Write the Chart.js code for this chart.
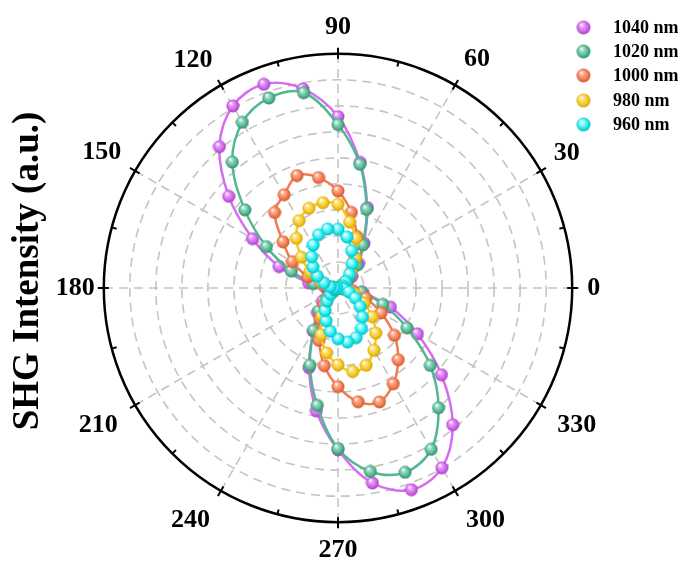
<!DOCTYPE html>
<html>
<head>
<meta charset="utf-8">
<script src="https://cdn.jsdelivr.net/npm/chart.js@4.4.1/dist/chart.umd.min.js"></script>
<style>
  html, body { margin: 0; padding: 0; background: #fff; overflow: hidden; }
  #wrap { position: relative; width: 685px; height: 564px; }
  #legend {
    position: absolute; left: 576px; top: 15px; margin: 0; padding: 0; list-style: none;
    font: bold 18px "Liberation Serif", "Times New Roman", serif; color: #000;
  }
  #legend li { display: flex; align-items: center; height: 24.3px; }
  #legend img { width: 15px; height: 15px; margin-right: 22px; }
</style>
</head>
<body>
<div id="wrap">
  <canvas id="chartCanvas" width="685" height="564"></canvas>
  <ul id="legend"></ul>
</div>
<script>
// polarisation angle (deg) of every measured point
const angles = [0, 10, 20, 30, 40, 50, 60, 70, 80, 90, 100, 110, 120, 130, 140, 150, 160, 170,
  180, 190, 200, 210, 220, 230, 240, 250, 260, 270, 280, 290, 300, 310, 320, 330, 340, 350];

// radar spokes run clockwise from the top, so the labels go 90, 80, ... 0, 350, ... 100
const angleLabels = [90, 80, 70, 60, 50, 40, 30, 20, 10, 0, 350, 340, 330, 320, 310, 300, 290, 280,
  270, 260, 250, 240, 230, 220, 210, 200, 190, 180, 170, 160, 150, 140, 130, 120, 110, 100];

// SHG intensity (a.u.), same order as angles
const i1040 = [0.38, 0.11, 0.04, 0.23, 0.69, 1.23, 1.99, 3.29, 4.90, 6.59, 7.77, 8.33, 8.08, 7.09, 5.48, 3.79, 2.41, 1.15,
  0.46, 0.11, 0.04, 0.23, 0.77, 1.23, 1.91, 3.26, 4.79, 6.22, 7.61, 8.25, 7.98, 6.86, 5.19, 3.52, 2.14, 0.96];
const i1020 = [0.38, 0.11, 0.04, 0.19, 0.54, 1.15, 1.91, 3.22, 4.83, 6.28, 7.62, 7.77, 7.35, 6.32, 4.67, 3.18, 1.91, 0.96,
  0.38, 0.11, 0.04, 0.19, 0.57, 1.15, 1.88, 3.16, 4.58, 6.17, 7.16, 7.54, 7.16, 6.01, 4.63, 3.06, 1.84, 0.92];
const i1000 = [0.23, 0.08, 0.04, 0.11, 0.38, 0.77, 1.34, 2.11, 2.95, 3.73, 4.31, 4.60, 4.14, 3.79, 2.76, 2.03, 1.23, 0.57,
  0.23, 0.08, 0.04, 0.15, 0.46, 0.84, 1.38, 2.14, 3.03, 3.79, 4.44, 4.66, 4.25, 3.60, 2.83, 1.91, 1.15, 0.57];
const i980 = [0.11, 0.04, 0.04, 0.15, 0.38, 0.77, 1.34, 2.03, 2.57, 3.22, 3.33, 3.26, 2.99, 2.49, 1.84, 1.23, 0.69, 0.31,
  0.11, 0.04, 0.04, 0.11, 0.31, 0.69, 1.23, 1.91, 2.53, 2.95, 3.26, 3.16, 2.76, 2.26, 1.72, 1.15, 0.69, 0.31];
const i960 = [0.11, 0.04, 0.08, 0.19, 0.38, 0.69, 1.07, 1.53, 1.99, 2.26, 2.30, 2.18, 1.91, 1.57, 1.26, 0.92, 0.57, 0.31,
  0.15, 0.04, 0.08, 0.15, 0.38, 0.65, 1.00, 1.34, 1.69, 1.95, 2.11, 2.03, 1.80, 1.46, 1.11, 0.77, 0.46, 0.23];

const seriesNames = ["1040 nm", "1020 nm", "1000 nm", "980 nm", "960 nm"];
const seriesValues = [i1040, i1020, i1000, i980, i960];
const yTitle = "SHG Intensity (a.u.)";

const serif = "'Liberation Serif', 'Times New Roman', serif";
const lineColors = ["#d66cf0", "#4fb892", "#f27a4e", "#f8c81c", "#1fe6ee"];
const ballColors = [["#e7a2f8", "#d165ee", "#9a3cb5"], ["#9fdcc6", "#56b993", "#2f8464"],
  ["#fbb394", "#f47c52", "#c45228"], ["#fde38a", "#f6c81f", "#c79a05"], ["#9ffbfc", "#1debf0", "#06aeb4"]];
const labelPad = { 0: 15, 30: 15, 60: 18, 90: 16, 120: 17, 150: 16, 180: 9, 210: 20, 240: 22, 270: 18, 300: 22, 330: 19 };

// little shaded ball used as point marker
function sphere(cols, size) {
  const c = document.createElement("canvas");
  c.width = c.height = size;
  const g = c.getContext("2d");
  const r = size / 2;
  const grad = g.createRadialGradient(r * 0.7, r * 0.6, r * 0.05, r, r, r);
  grad.addColorStop(0, "#ffffff");
  grad.addColorStop(0.25, cols[0]);
  grad.addColorStop(0.65, cols[1]);
  grad.addColorStop(1, cols[2]);
  g.fillStyle = grad;
  g.beginPath();
  g.arc(r, r, r - 0.5, 0, Math.PI * 2);
  g.fill();
  return c;
}

// black outer ring with ticks every 15 deg
const rim = {
  id: "rim",
  beforeDatasetsDraw(chart) {
    const s = chart.scales.r;
    const ctx = chart.ctx;
    const R = s.drawingArea;
    ctx.save();
    ctx.strokeStyle = "#000";
    ctx.lineWidth = 2.5;
    ctx.beginPath();
    ctx.arc(s.xCenter, s.yCenter, R, 0, Math.PI * 2);
    ctx.stroke();
    ctx.lineWidth = 2;
    for (let a = 0; a < 360; a += 15) {
      const major = a % 30 === 0;
      const t = a * Math.PI / 180;
      const r0 = R - 5;
      const r1 = major ? R + 6 : R;
      ctx.beginPath();
      ctx.moveTo(s.xCenter + r0 * Math.cos(t), s.yCenter - r0 * Math.sin(t));
      ctx.lineTo(s.xCenter + r1 * Math.cos(t), s.yCenter - r1 * Math.sin(t));
      ctx.stroke();
    }
    ctx.restore();
  }
};

// vertical axis title on the left
const axisTitle = {
  id: "axisTitle",
  afterDraw(chart) {
    const ctx = chart.ctx;
    ctx.save();
    ctx.translate(28, 271);
    ctx.rotate(-Math.PI / 2);
    ctx.font = "bold 37px " + serif;
    ctx.fillStyle = "#000";
    ctx.textAlign = "center";
    ctx.textBaseline = "middle";
    ctx.fillText(yTitle, 0, 0);
    ctx.restore();
  }
};

const datasets = seriesNames.map((name, k) => ({
  label: name,
  data: angleLabels.map(a => seriesValues[k][angles.indexOf(a)]),
  borderColor: lineColors[k],
  backgroundColor: lineColors[k],
  fill: false,
  borderWidth: 2.5,
  tension: 0.35,
  pointStyle: sphere(ballColors[k], 14),
  pointRadius: 7,
  order: seriesNames.length - k   // 960 nm drawn on top
}));

const chart = new Chart(document.getElementById("chartCanvas"), {
  type: "radar",
  data: { labels: angleLabels, datasets: datasets },
  options: {
    responsive: false,
    animation: false,
    layout: { padding: { left: 13, right: 22, top: 17, bottom: 2 } },
    plugins: { legend: { display: false }, tooltip: { enabled: false } },
    scales: {
      r: {
        min: 0,
        max: 9,
        ticks: { display: false, stepSize: 1 },
        grid: { circular: true, color: "#c4c4c4", lineWidth: 1.6 },
        border: { dash: [9, 6] },
        angleLines: {
          color: "#c4c4c4",
          lineWidth: ctx => (angleLabels[ctx.index] % 30 === 0 ? 1.6 : 0),
          borderDash: [9, 6]
        },
        pointLabels: {
          callback: (label) => (label % 30 === 0 ? String(label) : ""),
          color: "#000",
          font: { family: serif, size: 26, weight: "bold", lineHeight: 0.8 },
          padding: ctx => labelPad[angleLabels[ctx.index]] || 15
        }
      }
    }
  },
  plugins: [rim, axisTitle]
});

// html legend from the chart datasets
const legendEl = document.getElementById("legend");
chart.data.datasets.forEach(ds => {
  const li = document.createElement("li");
  const img = document.createElement("img");
  img.src = ds.pointStyle.toDataURL();
  li.appendChild(img);
  li.appendChild(document.createTextNode(ds.label));
  legendEl.appendChild(li);
});
</script>
</body>
</html>
